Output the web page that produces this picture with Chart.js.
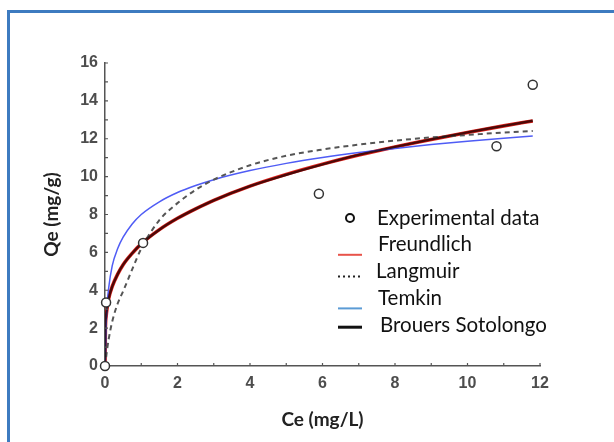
<!DOCTYPE html>
<html>
<head>
<meta charset="utf-8">
<script src="https://cdn.jsdelivr.net/npm/chart.js@4.4.1/dist/chart.umd.min.js"></script>
<style>
  body { margin: 0; background: #fff; }
  #frame { position: absolute; left: 7px; top: 10px; width: 660px; height: 480px; border: 3px solid #3d7bc0; }
  #wrap { position: absolute; left: 0; top: 0; width: 614px; height: 442px; }
</style>
</head>
<body>
<div id="frame"></div>
<div id="wrap"><canvas id="isotherm" width="614" height="442"></canvas></div>
<script>
// equilibrium concentration grid for the fitted curves (mg/L)
const ce = [0, 0.01, 0.03, 0.06, 0.1, 0.2, 0.35, 0.5, 0.75, 1, 1.5, 2, 2.5, 3, 4, 5, 6, 7, 8, 9, 10, 11, 11.8];

// fitted uptake, Qe (mg/g)
const freundlich = [0, 1.9, 2.6, 3.1, 3.55, 4.2, 4.85, 5.35, 5.95, 6.45, 7.2, 7.8, 8.3, 8.75, 9.5, 10.12, 10.66, 11.14, 11.57, 11.96, 12.33, 12.68, 12.94];
const langmuir = [0, 0.15, 0.45, 0.9, 1.4, 2.35, 3.3, 3.95, 5.1, 6.2, 7.7, 8.6, 9.3, 9.84, 10.6, 11.1, 11.43, 11.69, 11.9, 12.07, 12.2, 12.33, 12.41];
const temkin = [0, 0.3, 2.1, 3.25, 4.1, 5.3, 6.2, 6.8, 7.5, 8.0, 8.67, 9.16, 9.53, 9.84, 10.32, 10.7, 11.01, 11.27, 11.49, 11.69, 11.87, 12.03, 12.14];
const brouers = [0, 1.95, 2.65, 3.1, 3.55, 4.2, 4.85, 5.35, 5.95, 6.45, 7.2, 7.8, 8.3, 8.75, 9.5, 10.1, 10.65, 11.15, 11.57, 11.97, 12.34, 12.68, 12.95];

// measured points
const expCe = [0, 0.03, 1.05, 5.9, 10.8, 11.8];
const expQe = [0, 3.35, 6.5, 9.1, 11.6, 14.85];

const toPoints = (xs, ys) => xs.map((x, i) => ({ x: x, y: ys[i] }));

function curve(label, ys, color, width, extra) {
    return Object.assign({
        label: label,
        data: toPoints(ce, ys),
        showLine: true,
        borderColor: color,
        borderWidth: width,
        pointRadius: 0,
        cubicInterpolationMode: 'monotone',
        fill: false
    }, extra);
}

// small inward tick marks on both axes
const innerTicks = {
    id: 'innerTicks',
    afterDraw(chart) {
        const ctx = chart.ctx;
        const { x, y } = chart.scales;
        ctx.save();
        ctx.strokeStyle = '#555';
        ctx.lineWidth = 1.2;
        ctx.beginPath();
        for (let v = 1; v <= 12; v++) {
            const px = x.getPixelForValue(v);
            ctx.moveTo(px, y.bottom);
            ctx.lineTo(px, y.bottom - 3);
        }
        for (let v = 1; v <= 16; v++) {
            const py = y.getPixelForValue(v);
            ctx.moveTo(x.left, py);
            ctx.lineTo(x.left + 3, py);
        }
        ctx.stroke();
        ctx.restore();
    }
};

// legend box drawn inside the plot
const keyBox = {
    id: 'keyBox',
    afterDraw(chart) {
        const ctx = chart.ctx;
        const symOffset = [0, 10, 5, 10, 2];
        const textX = [377, 378, 376, 378, 380];
        ctx.save();
        ctx.font = '20.5px Lato';
        ctx.textBaseline = 'middle';
        chart.data.datasets.forEach((ds, i) => {
            const ty = 218 + i * 26.8;
            const sy = ty + symOffset[i];
            ctx.fillStyle = '#111';
            ctx.fillText(ds.label, textX[i], ty);
            ctx.setLineDash([]);
            if (!ds.showLine) {
                ctx.strokeStyle = '#111';
                ctx.lineWidth = 2;
                ctx.beginPath();
                ctx.arc(350, sy, 4, 0, Math.PI * 2);
                ctx.stroke();
                return;
            }
            ctx.strokeStyle = ds.keyColor || ds.borderColor;
            ctx.lineWidth = ds.keyWidth || 2;
            if (ds.keyDash) ctx.setLineDash(ds.keyDash);
            ctx.beginPath();
            ctx.moveTo(338, sy);
            ctx.lineTo(362, sy);
            ctx.stroke();
        });
        ctx.restore();
    }
};

const tickFont = { family: '"Liberation Sans", Arial, sans-serif', size: 16, weight: 'bold' };
const titleFont = { family: 'Lato, sans-serif', size: 19, weight: 'bold' };

new Chart(document.getElementById('isotherm'), {
    type: 'scatter',
    data: {
        datasets: [
            {
                label: 'Experimental data',
                data: toPoints(expCe, expQe),
                showLine: false,
                pointStyle: 'circle',
                pointRadius: 4.5,
                pointBackgroundColor: '#fff',
                pointBorderColor: '#333',
                pointBorderWidth: 1.5,
                clip: false,
                order: 0
            },
            curve('Freundlich', freundlich, '#e3231d', 3.6, { order: 4, keyColor: '#e8534a', keyWidth: 2 }),
            curve('Langmuir', langmuir, '#555555', 2, { order: 2, borderDash: [5, 4], keyColor: '#222', keyDash: [2, 3], keyWidth: 2 }),
            curve('Temkin', temkin, '#4f5cf5', 1.5, { order: 3, keyColor: '#5b9bd5', keyWidth: 2 }),
            curve('Brouers Sotolongo', brouers, 'rgba(25,0,0,0.75)', 2.4, { order: 1, keyColor: '#111', keyWidth: 3 })
        ]
    },
    options: {
        responsive: false,
        animation: false,
        layout: { padding: { left: 40, top: 63, right: 74, bottom: 0 } },
        plugins: {
            legend: { display: false },
            tooltip: { enabled: false }
        },
        scales: {
            x: {
                type: 'linear',
                min: 0,
                max: 12,
                afterFit: (s) => { s.height = 76; },
                border: { display: true, color: '#555', width: 1.5 },
                grid: { display: false, drawTicks: false },
                ticks: { stepSize: 2, padding: 8, color: '#4d4d4d', font: tickFont },
                title: { display: true, text: 'Ce (mg/L)', color: '#222', font: titleFont, padding: { top: 0, bottom: 11 } }
            },
            y: {
                type: 'linear',
                min: 0,
                max: 16,
                afterFit: (s) => { s.width = 65; },
                border: { display: true, color: '#555', width: 1.5 },
                grid: { display: false, drawTicks: false },
                ticks: { stepSize: 2, padding: 7, color: '#4d4d4d', font: tickFont },
                title: { display: true, text: 'Qe (mg/g)', color: '#222', font: titleFont, padding: 0 }
            }
        }
    },
    plugins: [innerTicks, keyBox]
});
</script>
</body>
</html>
